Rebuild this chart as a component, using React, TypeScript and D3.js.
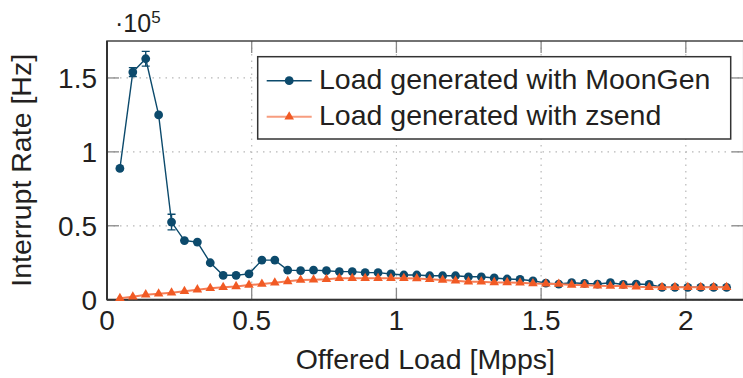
import React from "react";
import * as d3 from "d3";

const step = 0.0446;
const moonGen = [
  0.888, 1.54, 1.63, 1.25, 0.525, 0.4, 0.39, 0.25, 0.165, 0.165, 0.175, 0.268,
  0.268, 0.2, 0.197, 0.2, 0.196, 0.19, 0.19, 0.183, 0.183, 0.174, 0.167, 0.167,
  0.162, 0.162, 0.162, 0.155, 0.155, 0.147, 0.14, 0.137, 0.128, 0.112, 0.106,
  0.115, 0.11, 0.106, 0.115, 0.103, 0.106, 0.103, 0.084, 0.084, 0.084, 0.084,
  0.084, 0.084,
];
const moonGenErr = [
  0, 0.03, 0.05, 0, 0.053, 0, 0, 0, 0, 0, 0, 0, 0, 0, 0, 0, 0, 0, 0, 0, 0, 0,
  0, 0, 0, 0, 0, 0, 0, 0, 0, 0, 0, 0, 0, 0, 0, 0, 0, 0, 0, 0, 0, 0, 0, 0, 0, 0,
];
const zsend = [
  0.01, 0.02, 0.034, 0.04, 0.047, 0.057, 0.068, 0.077, 0.084, 0.09, 0.099,
  0.106, 0.115, 0.124, 0.133, 0.135, 0.138, 0.145, 0.145, 0.145, 0.145, 0.145,
  0.145, 0.143, 0.138, 0.133, 0.128, 0.122, 0.122, 0.117, 0.117, 0.115, 0.11,
  0.108, 0.106, 0.1, 0.099, 0.095, 0.093, 0.092, 0.088, 0.084, 0.084, 0.084,
  0.084, 0.084, 0.084, 0.084,
];
const xTicks = [0, 0.5, 1, 1.5, 2];
const yTicks = [0, 0.5, 1, 1.5];
const xLabel = "Offered Load [Mpps]";
const yLabel = "Interrupt Rate [Hz]";
const legendLabels = ["Load generated with MoonGen", "Load generated with zsend"];

const W = 743;
const H = 378;
const left = 107;
const right = 743.7;
const top = 41;
const bottom = 299.7;

const BLUE = "#0c4a6c";
const ORANGE = "#f15a24";
const ORANGE_LINE = "#f57d55";
const FONT = "'Liberation Sans', Arial, Helvetica, sans-serif";
const TEXT = "#231f20";

export default function App() {
  const x = d3.scaleLinear().domain([0, 2.2]).range([left, right]);
  const y = d3.scaleLinear().domain([0, 1.75]).range([bottom, top]);
  const xs = moonGen.map((_, i) => (i + 1) * step);

  const line = d3
    .line<number>()
    .x((_, i) => x(xs[i]))
    .y((d) => y(d));

  const tri = d3.symbol().type(d3.symbolTriangle).size(40)() as string;

  return (
    <svg
      width={W}
      height={H}
      style={{ position: "absolute", left: 0, top: 0, background: "#fff" }}
      fontFamily={FONT}
    >
      <defs>
        <clipPath id="plotclip">
          <rect x={left} y={top - 10} width={right - left + 10} height={bottom - top + 20} />
        </clipPath>
      </defs>
      {/* grid */}
      {xTicks.map((t) => (
        <line
          key={"gx" + t}
          x1={x(t)}
          x2={x(t)}
          y1={top}
          y2={bottom}
          stroke="#b8b8b8"
          strokeWidth={1.2}
          strokeDasharray="1.5,5"
        />
      ))}
      {yTicks.map((t) => (
        <line
          key={"gy" + t}
          x1={left}
          x2={right}
          y1={y(t)}
          y2={y(t)}
          stroke="#b8b8b8"
          strokeWidth={1.2}
          strokeDasharray="1.5,5"
        />
      ))}
      {/* ticks inward */}
      {xTicks.map((t) => (
        <g key={"tx" + t}>
          <line x1={x(t)} x2={x(t)} y1={bottom} y2={bottom - 12} stroke="#888" strokeWidth={1.3} />
          <line x1={x(t)} x2={x(t)} y1={top} y2={top + 12} stroke="#888" strokeWidth={1.3} />
        </g>
      ))}
      {yTicks.map((t) => (
        <g key={"ty" + t}>
          <line x1={left} x2={left + 12} y1={y(t)} y2={y(t)} stroke="#888" strokeWidth={1.3} />
          <line x1={right} x2={right - 12} y1={y(t)} y2={y(t)} stroke="#888" strokeWidth={1.3} />
        </g>
      ))}
      {/* frame */}
      <rect
        x={left}
        y={top}
        width={right - left}
        height={bottom - top}
        fill="none"
        stroke="#444"
        strokeWidth={1.5}
      />
      <line x1={left} x2={right} y1={bottom} y2={bottom} stroke="#333" strokeWidth={2} />
      <line x1={left} x2={left} y1={top} y2={bottom} stroke="#333" strokeWidth={2} />

      {/* tick labels */}
      {xTicks.map((t) => (
        <text
          key={"lx" + t}
          x={x(t)}
          y={330}
          textAnchor="middle"
          fontSize={28}
          fill={TEXT}
        >
          {String(t)}
        </text>
      ))}
      {yTicks.map((t) => (
        <text
          key={"ly" + t}
          x={97}
          y={y(t) + 10}
          textAnchor="end"
          fontSize={28}
          fill={TEXT}
        >
          {String(t)}
        </text>
      ))}
      <text x={115} y={32.3} fontSize={25} fill={TEXT}>
        ·10
        <tspan fontSize={17} dy={-9}>
          5
        </tspan>
      </text>

      {/* axis labels */}
      <text x={(left + right) / 2} y={369} textAnchor="middle" fontSize={28.5} fill={TEXT}>
        {xLabel}
      </text>
      <text
        transform={`translate(31, ${(top + bottom) / 2}) rotate(-90)`}
        textAnchor="middle"
        fontSize={28.5}
        fill={TEXT}
      >
        {yLabel}
      </text>

      {/* MoonGen series */}
      <g clipPath="url(#plotclip)">
        <path d={line(moonGen) || ""} fill="none" stroke={BLUE} strokeWidth={1.4} />
        {moonGen.map((v, i) =>
          moonGenErr[i] > 0 ? (
            <g key={"e" + i} stroke={BLUE} strokeWidth={1.4}>
              <line x1={x(xs[i])} x2={x(xs[i])} y1={y(v - moonGenErr[i])} y2={y(v + moonGenErr[i])} />
              <line x1={x(xs[i]) - 4} x2={x(xs[i]) + 4} y1={y(v - moonGenErr[i])} y2={y(v - moonGenErr[i])} />
              <line x1={x(xs[i]) - 4} x2={x(xs[i]) + 4} y1={y(v + moonGenErr[i])} y2={y(v + moonGenErr[i])} />
            </g>
          ) : null
        )}
        {moonGen.map((v, i) => (
          <circle key={"m" + i} cx={x(xs[i])} cy={y(v)} r={4.4} fill={BLUE} />
        ))}

        {/* zsend series */}
        <path d={line(zsend) || ""} fill="none" stroke={ORANGE_LINE} strokeWidth={2} />
        {zsend.map((v, i) => (
          <path key={"z" + i} d={tri} transform={`translate(${x(xs[i])},${y(v)})`} fill={ORANGE} />
        ))}
      </g>

      {/* legend */}
      <rect x={257.7} y={56.7} width={473} height={82.3} fill="#fff" stroke="#333" strokeWidth={1.5} />
      <line x1={266.7} x2={311.7} y1={80.7} y2={80.7} stroke={BLUE} strokeWidth={1.4} />
      <circle cx={289.2} cy={80.7} r={4.4} fill={BLUE} />
      <text x={319} y={89.3} fontSize={28.5} fill={TEXT}>
        {legendLabels[0]}
      </text>
      <line x1={266.7} x2={311.7} y1={116.7} y2={116.7} stroke={ORANGE_LINE} strokeWidth={2} opacity={0.75} />
      <path d={tri} transform="translate(289.2,116.7)" fill={ORANGE} />
      <text x={319} y={125} fontSize={28.5} fill={TEXT}>
        {legendLabels[1]}
      </text>
    </svg>
  );
}
